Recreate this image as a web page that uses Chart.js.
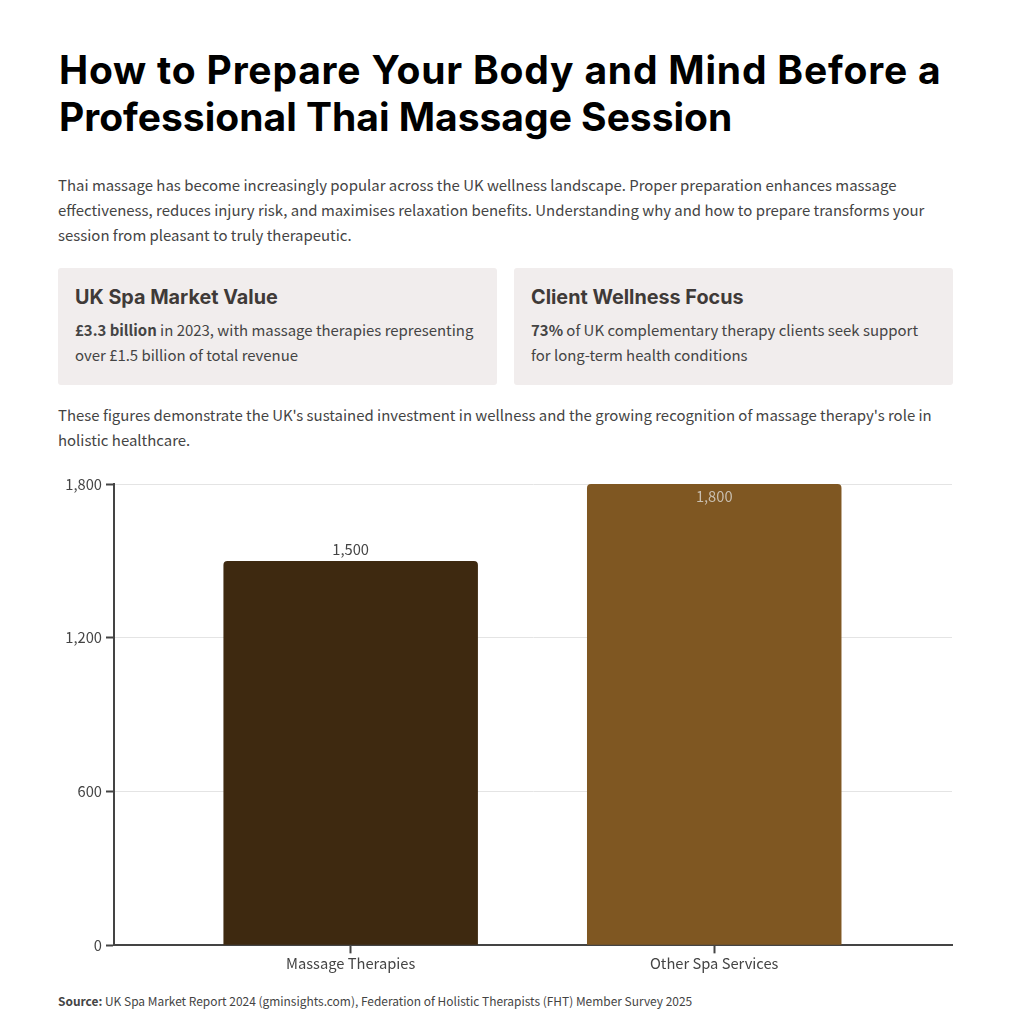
<!DOCTYPE html>
<html>
<head>
<meta charset="utf-8">
<title>Thai Massage Preparation</title>
<script src="https://cdn.jsdelivr.net/npm/chart.js@4"></script>
<style>
  html, body { margin: 0; padding: 0; background: #fff; }
  body { width: 1011px; height: 1024px; position: relative; overflow: hidden; font-family: "Noto Sans CJK SC", "Noto Sans", sans-serif; color: #444; }
  h1 { position: absolute; left: 59px; top: 46px; width: 920px; margin: 0; font: 700 39px/47px Inter, sans-serif; color: #000; white-space: nowrap; }
  h1 span { letter-spacing: 0.8px; }
  p { margin: 0; }
  .intro { position: absolute; left: 58px; top: 173px; width: 880px; font-size: 14.95px; line-height: 24.8px; }
  .card { position: absolute; top: 268px; width: 439px; height: 117px; background: #f1eded; border-radius: 3px; box-sizing: border-box; padding: 16.5px 17px; }
  .card h3 { margin: 0 0 8px; font: 700 19.8px/24px Inter, sans-serif; color: #3f3a38; }
  .card p { font-size: 14.95px; line-height: 25px; }
  .outro { position: absolute; left: 58px; top: 402px; width: 885px; font-size: 14.95px; line-height: 25px; }
  .chart-box { position: absolute; left: 58px; top: 470px; width: 895px; height: 503px; }
  .source { position: absolute; left: 58px; top: 992px; font-size: 11.95px; line-height: 18px; }
</style>
</head>
<body>
<h1><span>How to Prepare Your Body and Mind Before a</span><br>Professional Thai Massage Session</h1>
<p class="intro">Thai massage has become increasingly popular across the UK wellness landscape. Proper preparation enhances massage effectiveness, reduces injury risk, and maximises relaxation benefits. Understanding why and how to prepare transforms your session from pleasant to truly therapeutic.</p>
<div class="card" style="left:58px"><h3>UK Spa Market Value</h3><p><b>£3.3 billion</b> in 2023, with massage therapies representing over £1.5 billion of total revenue</p></div>
<div class="card" style="left:514px"><h3>Client Wellness Focus</h3><p><b>73%</b> of UK complementary therapy clients seek support for long-term health conditions</p></div>
<p class="outro">These figures demonstrate the UK's sustained investment in wellness and the growing recognition of massage therapy's role in holistic healthcare.</p>
<div class="chart-box"><canvas id="spaChart"></canvas></div>
<p class="source"><b>Source:</b> UK Spa Market Report 2024 (gminsights.com), Federation of Holistic Therapists (FHT) Member Survey 2025</p>
<script>
const categories = ['Massage Therapies', 'Other Spa Services'];
const revenue = [1500, 1800];
const yTicks = [0, 600, 1200, 1800];
const barColors = ['#3e2910', '#7f5722'];
const labelColors = ['#444444', '#c9bfb0'];

const fontFamily = '"Noto Sans CJK SC", "Noto Sans", sans-serif';

// value labels above the bar, or inside it when there is no room on top
const valueLabels = {
    id: 'valueLabels',
    afterDatasetsDraw(chart) {
        const ctx = chart.ctx;
        const bars = chart.getDatasetMeta(0).data;
        ctx.save();
        ctx.font = '14.7px ' + fontFamily;
        ctx.textAlign = 'center';
        bars.forEach((bar, i) => {
            const inside = revenue[i] >= chart.scales.y.max;
            ctx.fillStyle = labelColors[i];
            ctx.textBaseline = inside ? 'top' : 'bottom';
            ctx.fillText(revenue[i].toLocaleString('en-GB'), bar.x, inside ? bar.y + 5 : bar.y - 4);
        });
        ctx.restore();
    }
};

new Chart(document.getElementById('spaChart'), {
    type: 'bar',
    data: {
        // x is a linear scale so the bars sit closer together than an even split of the width
        datasets: [{
            data: revenue.map((value, i) => ({ x: i, y: value })),
            backgroundColor: barColors,
            borderRadius: { topLeft: 4, topRight: 4 },
            borderSkipped: 'bottom',
            categoryPercentage: 0.7,
            barPercentage: 1
        }]
    },
    options: {
        responsive: true,
        maintainAspectRatio: false,
        animation: false,
        layout: { padding: { top: 14, right: 1, bottom: 0, left: 0 } },
        plugins: { legend: { display: false }, tooltip: { enabled: false } },
        scales: {
            x: {
                type: 'linear',
                min: -0.651,
                max: 1.654,
                offset: false,
                afterBuildTicks(scale) { scale.ticks = categories.map((name, i) => ({ value: i })); },
                border: { color: '#444', width: 2 },
                grid: { offset: false, drawOnChartArea: false, drawTicks: true, tickColor: '#444', tickWidth: 2, tickLength: 8 },
                ticks: { color: '#444', font: { family: fontFamily, size: 14.7 }, padding: 1, autoSkip: false, maxRotation: 0,
                    callback: value => categories[value] }
            },
            y: {
                min: 0,
                max: 1800,
                afterFit(scale) { scale.width = 56; },
                afterBuildTicks(scale) { scale.ticks = yTicks.map(value => ({ value })); },
                border: { color: '#444', width: 2 },
                grid: { color: '#e4e4e4', lineWidth: 1, tickColor: '#444', tickWidth: 2, tickLength: 8 },
                ticks: { color: '#444', font: { family: fontFamily, size: 14.7 }, padding: 4,
                    callback: value => value.toLocaleString('en-GB') }
            }
        }
    },
    plugins: [valueLabels]
});
</script>
</body>
</html>
